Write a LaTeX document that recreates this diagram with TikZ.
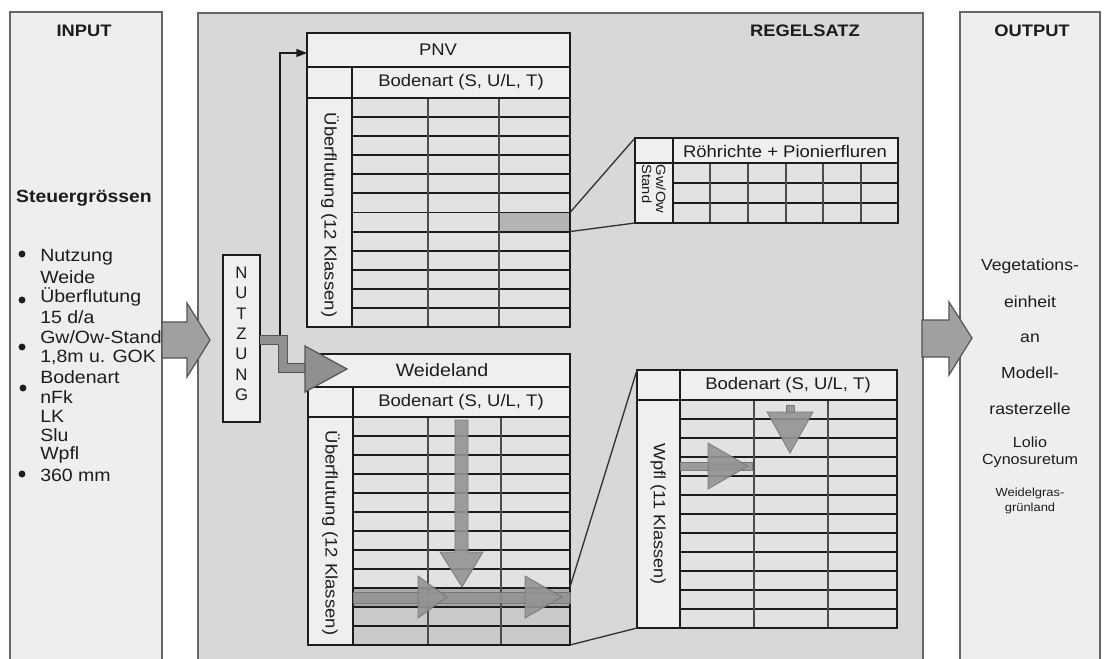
\documentclass[tikz,border=0pt]{standalone}
\usepackage{fontspec}
\setmainfont{Liberation Sans}[FakeStretch=1.1]
\newfontfamily\plainsf{Liberation Sans}
\usetikzlibrary{arrows.meta}
\definecolor{panelL}{HTML}{EEEEEE}
\definecolor{panelM}{HTML}{D8D8D8}
\definecolor{cellbg}{HTML}{E2E2E2}
\definecolor{hdrbg}{HTML}{EFEFEF}
\definecolor{arrowfill}{HTML}{A0A0A0}
\definecolor{arrowedge}{HTML}{555555}
\definecolor{inkc}{HTML}{1C1C1C}
\definecolor{hl}{HTML}{B4B4B4}
\definecolor{hlrow}{HTML}{A8A8A8}
\definecolor{hlrow2}{HTML}{CACACA}
\begin{document}
\begin{tikzpicture}[x=0.75pt,y=-0.75pt,
  panel/.style={draw=black!60, line width=0.8pt},
  ttl/.style={font=\bfseries\fontsize{12.5}{14}\selectfont, text=inkc},
  listtxt/.style={font=\fontsize{13.3}{15}\selectfont, text=inkc, anchor=west, inner sep=0pt},
  outtxt/.style={font=\fontsize{12}{14}\selectfont, text=inkc, inner sep=0pt},
  tbltxt/.style={font=\fontsize{12.6}{14}\selectfont, text=inkc, inner sep=0pt},
  outerline/.style={draw=inkc, line width=1.5pt},
  rowline/.style={draw=inkc, line width=1.4pt},
  colline/.style={draw=black!70, line width=0.8pt},
  bigarrow/.style={fill=arrowfill, draw=arrowedge, line width=0.9pt, line join=miter},
  flowarrow/.style={fill=black!42, draw=black!55, line width=0.6pt, opacity=0.9},
  zoomline/.style={draw=black!80, line width=1pt},
  bul/.style={fill=inkc}]
\useasboundingbox (0,0) rectangle (1106,659);
\clip (0,0) rectangle (1106,659);
\fill[white] (0,0) rectangle (1106,659);

% ---------- panels ----------
\path[panel, fill=panelL] (10,12) rectangle (162,670);
\path[panel, fill=panelM] (198,13) rectangle (923,670);
\path[panel, fill=panelL] (960,12) rectangle (1100,670);

\node[ttl] (tin) at (84,31) {INPUT};
\node[ttl] (treg) at (805,31) {REGELSATZ};
\node[ttl] (tout) at (1032,31) {OUTPUT};

% ---------- input text ----------
\node[font=\bfseries\fontsize{13.2}{15}\selectfont, text=inkc] (steuer) at (84,198) {Steuergrössen};
\node[listtxt] (l1) at (40,257) {Nutzung};
\node[listtxt] (l2) at (40,277) {Weide};
\node[listtxt] (l3) at (40,297) {Überflutung};
\node[listtxt] (l4) at (40,317) {15 d/a};
\node[listtxt] (l5) at (40,337) {Gw/Ow-Stand};
\node[listtxt] (l6) at (40,357) {1,8m u. GOK};
\node[listtxt] (l7) at (40,377) {Bodenart};
\node[listtxt] (l8) at (40,397) {nFk};
\node[listtxt] (l9) at (40,416) {LK};
\node[listtxt] (l10) at (40,435) {Slu};
\node[listtxt] (l11) at (40,455) {Wpfl};
\node[listtxt] (l12) at (40,475) {360 mm};
\fill[bul] (22,254) circle[radius=2.6pt];
\fill[bul] (22,300) circle[radius=2.6pt];
\fill[bul] (22,347) circle[radius=2.6pt];
\fill[bul] (23,388) circle[radius=2.6pt];
\fill[bul] (22,474) circle[radius=2.6pt];

% ---------- output text ----------
\node[outtxt] (o1) at (1030,266) {Vegetations-};
\node[outtxt] (o2) at (1030,302) {einheit};
\node[outtxt] (o3) at (1030,338) {an};
\node[outtxt] (o4) at (1030,373) {Modell-};
\node[outtxt] (o5) at (1030,409) {rasterzelle};
\node[outtxt, font=\fontsize{11}{13}\selectfont, align=center] (o6) at (1030,452) {Lolio\\Cynosuretum};
\node[outtxt, font=\fontsize{8.8}{11}\selectfont, align=center] (o7) at (1030,501) {Weidelgras-\\grünland};

% ---------- big arrows ----------
\path[bigarrow] (162,322) -- (187,322) -- (187,303) -- (210,340) -- (187,377) -- (187,358) -- (162,358) -- cycle;
\path[bigarrow] (922,320) -- (949,320) -- (949,302) -- (972,338) -- (949,375) -- (949,357) -- (922,357) -- cycle;

% ---------- NUTZUNG ----------
\node[draw=inkc, line width=1pt, fill=hdrbg, minimum width=37*0.75pt, minimum height=167*0.75pt, inner sep=0pt] (nutz) at (241.5,338.5) {};
\foreach \c [count=\i from 0] in {N,U,T,Z,U,N,G}
  \node[font=\plainsf\fontsize{12.5}{13}\selectfont, text=inkc, inner sep=0pt] (nz\i) at (241.5,{273+\i*20.3}) {\c};

% ---------- PNV table ----------
\fill[hdrbg] (307,33) rectangle (570,327);
\fill[cellbg] (352,98) rectangle (570,327);
\fill[hl] (499,{98+6*229/12}) rectangle (570,{98+7*229/12});
\foreach \i in {1,...,11} \path[rowline] (352,{98+\i*229/12}) -- (570,{98+\i*229/12});
\path[colline] (428,98) -- (428,327) (499,98) -- (499,327);
\path[outerline] (307,67) -- (570,67) (307,98) -- (570,98) (352,67) -- (352,327);
\path[outerline] (307,33) rectangle (570,327);
\node[tbltxt] (pnv) at (438,50) {PNV};
\node[tbltxt] (pnvbod) at (461,82) {Bodenart (S, U/L, T)};
\node[tbltxt, rotate=-90] (pnvlab) at (330,215) {Überflutung (12 Klassen)};
\coordinate (pnvA) at (570,{98+6*229/12});
\coordinate (pnvB) at (570,{98+7*229/12});

% ---------- Röhrichte table ----------
\fill[hdrbg] (635,138) rectangle (898,223);
\fill[cellbg] (673,163) rectangle (898,223);
\foreach \y in {183,203} \path[rowline] (673,\y) -- (898,\y);
\foreach \x in {710,748,786,823,861} \path[colline] (\x,163) -- (\x,223);
\path[outerline] (635,163) -- (898,163) (673,138) -- (673,223);
\path[outerline] (635,138) rectangle (898,223);
\node[tbltxt] (roehr) at (785,151) {Röhrichte + Pionierfluren};
\node[font=\fontsize{10}{10.5}\selectfont, text=inkc, inner sep=0pt, rotate=-90, align=left] (gwow) at (654,189) {Gw/Ow\\Stand};
\coordinate (roA) at (635,138);
\coordinate (roB) at (635,223);
\path[zoomline] (pnvA) -- (roA);
\path[zoomline] (pnvB) -- (roB);

% ---------- Weideland table ----------
\fill[hdrbg] (308,354) rectangle (570,645);
\fill[cellbg] (353,417) rectangle (570,645);
\fill[hlrow] (353,{417+9*19}) rectangle (570,{417+10*19});
\fill[hlrow2] (353,{417+10*19}) rectangle (570,645);
\foreach \i in {1,...,11} \path[rowline] (353,{417+\i*19}) -- (570,{417+\i*19});
\path[colline] (428,417) -- (428,645) (501,417) -- (501,645);
\path[outerline] (308,387) -- (570,387) (308,417) -- (570,417) (353,387) -- (353,645);
\path[outerline] (308,354) rectangle (570,645);
\node[font=\fontsize{13.4}{15}\selectfont, text=inkc, inner sep=0pt] (weide) at (442,370) {Weideland};
\node[tbltxt] (wbod) at (461,402) {Bodenart (S, U/L, T)};
\node[tbltxt, rotate=-90] (wlab) at (331,533) {Überflutung (12 Klassen)};
\coordinate (wA) at (570,587);
\coordinate (wB) at (570,645);

% arrows inside Weideland
\path[flowarrow] (455,420) -- (468,420) -- (468,552) -- (483,552) -- (462,587) -- (440,552) -- (455,552) -- cycle;
\path[flowarrow] (353,592) rectangle (570,603);
\path[flowarrow] (418,576) -- (447,597) -- (418,618) -- cycle;
\path[flowarrow] (525,576) -- (562,597) -- (525,618) -- cycle;

% ---------- Wpfl table ----------
\fill[hdrbg] (637,370) rectangle (897,628);
\fill[cellbg] (680,400) rectangle (897,628);
\foreach \i in {1,...,11} \path[rowline] (680,{400+\i*19}) -- (897,{400+\i*19});
\path[colline] (754,400) -- (754,628) (828,400) -- (828,628);
\path[outerline] (637,400) -- (897,400) (680,370) -- (680,628);
\path[outerline] (637,370) rectangle (897,628);
\node[tbltxt] (wpbod) at (788,385) {Bodenart (S, U/L, T)};
\node[font=\fontsize{12.3}{14}\selectfont, text=inkc, inner sep=0pt, rotate=-90] (wplab) at (658,514) {Wpfl (11 Klassen)};
\coordinate (wpA) at (637,370);
\coordinate (wpB) at (637,628);
\path[zoomline] (wA) -- (wpA);
\path[zoomline] (wB) -- (wpB);

% arrows inside Wpfl
\path[flowarrow] (680,462) rectangle (752,470);
\path[flowarrow] (708,443) -- (748,466) -- (708,489) -- cycle;
\path[flowarrow] (786,405) rectangle (794,413);
\path[flowarrow] (767,412) -- (813,412) -- (790,453) -- cycle;

% ---------- NUTZUNG outputs ----------
\coordinate (tj) at (280,340);
\coordinate (pnvin) at (307,53);
\draw[inkc, line width=1pt, -{Triangle[length=8pt,width=6pt]}] (tj) |- (pnvin);
\coordinate (nzout) at (260,340);
\coordinate (wdin) at (306,368);
\draw[arrowedge, line width=7.5pt, line join=miter] (nzout) -- (283,340) -- (283,368) -- (wdin);
\draw[arrowfill!90!black, line width=5.5pt, line join=miter] (nzout) -- (283,340) -- (283,368) -- (wdin);
\path[bigarrow, fill=arrowfill!90!black] (305,346) -- (347,369) -- (305,392) -- cycle;
\end{tikzpicture}
\end{document}
